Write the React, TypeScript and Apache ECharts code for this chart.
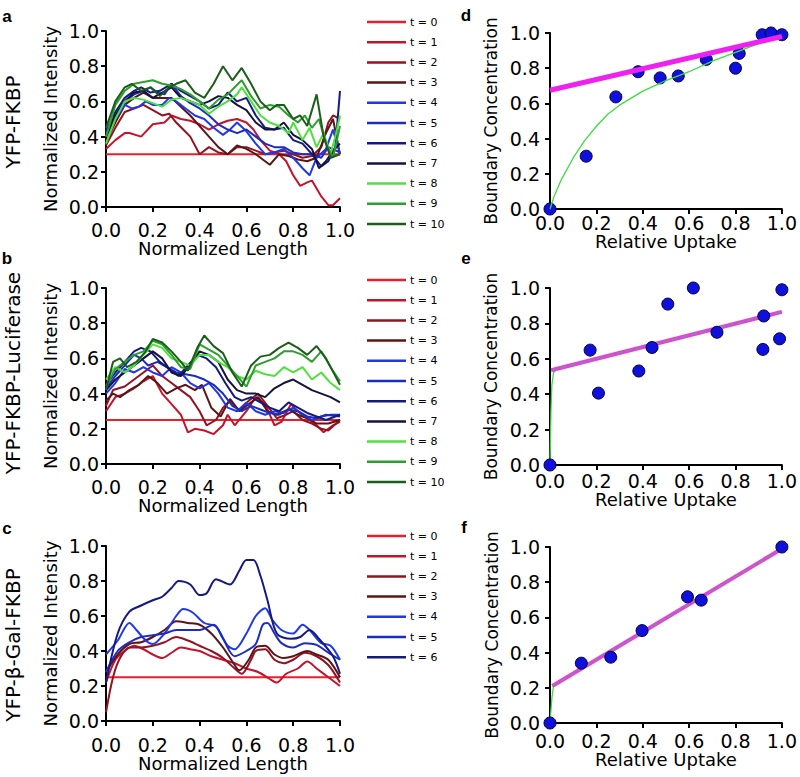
import React, { useEffect, useRef } from "react";
import * as echarts from "echarts";

type P = [number, number];

// ---------- labels ----------
const timeLabels = ["t = 0", "t = 1", "t = 2", "t = 3", "t = 4", "t = 5", "t = 6", "t = 7", "t = 8", "t = 9", "t = 10"];
const timeLabelsC = timeLabels.slice(0, 7);
const lineColors = ["#e8202a", "#c4142c", "#941222", "#5a1616", "#2038e8", "#1c2cc0", "#161a80", "#14143c", "#4fe03f", "#2e9e2e", "#1b5e1b"];
const panelLetters = ["a", "b", "c", "d", "e", "f"];
const rowLabels = ["YFP-FKBP", "YFP-FKBP-Luciferase", "YFP-\u03b2-Gal-FKBP"];

// ---------- panel a ----------
const aT0: P[] = [[0, 0.3], [1, 0.3]];
const aT1: P[] = [[0, 0.33], [0.04, 0.38], [0.08, 0.42], [0.1, 0.42], [0.15, 0.4], [0.2, 0.47], [0.25, 0.48], [0.28, 0.52], [0.32, 0.5], [0.36, 0.49], [0.4, 0.47], [0.44, 0.44], [0.48, 0.47], [0.52, 0.49], [0.56, 0.5], [0.6, 0.48], [0.63, 0.44], [0.66, 0.38], [0.7, 0.32], [0.74, 0.3], [0.77, 0.26], [0.8, 0.18], [0.83, 0.12], [0.86, 0.14], [0.88, 0.15], [0.92, 0.06], [0.95, 0.01], [0.97, 0.01], [1, 0.05]];
const aT2: P[] = [[0, 0.35], [0.04, 0.45], [0.08, 0.54], [0.12, 0.56], [0.16, 0.58], [0.2, 0.55], [0.24, 0.52], [0.27, 0.53], [0.3, 0.48], [0.33, 0.44], [0.36, 0.4], [0.4, 0.3], [0.44, 0.34], [0.48, 0.31], [0.52, 0.3], [0.56, 0.34], [0.6, 0.34], [0.64, 0.32], [0.68, 0.3], [0.72, 0.31], [0.76, 0.32], [0.8, 0.3], [0.84, 0.28], [0.88, 0.29], [0.92, 0.34], [0.95, 0.48], [0.97, 0.52], [1, 0.5]];
const aT3: P[] = [[0, 0.37], [0.04, 0.48], [0.08, 0.58], [0.12, 0.62], [0.16, 0.65], [0.2, 0.62], [0.24, 0.62], [0.28, 0.62], [0.32, 0.57], [0.36, 0.52], [0.4, 0.46], [0.44, 0.4], [0.48, 0.34], [0.52, 0.3], [0.56, 0.35], [0.6, 0.33], [0.64, 0.3], [0.68, 0.26], [0.7, 0.24], [0.74, 0.3], [0.78, 0.29], [0.82, 0.27], [0.86, 0.26], [0.9, 0.28], [0.94, 0.42], [0.97, 0.5], [1, 0.3]];
const aT4: P[] = [[0, 0.4], [0.04, 0.5], [0.08, 0.58], [0.11, 0.56], [0.14, 0.57], [0.17, 0.6], [0.2, 0.58], [0.24, 0.58], [0.27, 0.62], [0.3, 0.6], [0.34, 0.56], [0.38, 0.52], [0.42, 0.5], [0.46, 0.45], [0.5, 0.41], [0.53, 0.44], [0.56, 0.48], [0.6, 0.43], [0.64, 0.36], [0.68, 0.3], [0.72, 0.31], [0.76, 0.33], [0.8, 0.28], [0.84, 0.22], [0.87, 0.18], [0.9, 0.28], [0.94, 0.33], [0.97, 0.44], [1, 0.3]];
const aT5: P[] = [[0, 0.42], [0.04, 0.52], [0.08, 0.6], [0.12, 0.64], [0.16, 0.66], [0.19, 0.68], [0.22, 0.65], [0.25, 0.64], [0.28, 0.7], [0.32, 0.63], [0.36, 0.59], [0.4, 0.56], [0.44, 0.52], [0.48, 0.47], [0.52, 0.44], [0.56, 0.42], [0.6, 0.44], [0.64, 0.4], [0.68, 0.36], [0.72, 0.34], [0.76, 0.34], [0.8, 0.31], [0.84, 0.3], [0.88, 0.3], [0.92, 0.28], [0.95, 0.34], [1, 0.31]];
const aT6: P[] = [[0, 0.43], [0.04, 0.54], [0.08, 0.62], [0.12, 0.66], [0.15, 0.68], [0.19, 0.65], [0.23, 0.66], [0.28, 0.7], [0.32, 0.66], [0.36, 0.63], [0.4, 0.6], [0.44, 0.56], [0.48, 0.58], [0.52, 0.65], [0.56, 0.6], [0.6, 0.62], [0.64, 0.52], [0.68, 0.45], [0.72, 0.44], [0.76, 0.45], [0.8, 0.38], [0.84, 0.36], [0.88, 0.3], [0.92, 0.23], [0.95, 0.26], [0.98, 0.34], [1, 0.66]];
const aT7: P[] = [[0, 0.4], [0.04, 0.52], [0.08, 0.6], [0.12, 0.65], [0.16, 0.66], [0.2, 0.62], [0.24, 0.65], [0.28, 0.68], [0.32, 0.62], [0.36, 0.6], [0.4, 0.58], [0.44, 0.6], [0.48, 0.63], [0.52, 0.62], [0.56, 0.58], [0.6, 0.55], [0.64, 0.48], [0.68, 0.44], [0.72, 0.44], [0.76, 0.48], [0.8, 0.41], [0.84, 0.38], [0.88, 0.33], [0.91, 0.22], [0.94, 0.26], [0.97, 0.32], [1, 0.36]];
const aT8: P[] = [[0, 0.36], [0.04, 0.5], [0.08, 0.6], [0.12, 0.62], [0.16, 0.61], [0.2, 0.59], [0.24, 0.57], [0.28, 0.61], [0.32, 0.62], [0.36, 0.6], [0.4, 0.58], [0.44, 0.53], [0.48, 0.57], [0.52, 0.6], [0.56, 0.64], [0.58, 0.68], [0.62, 0.6], [0.66, 0.52], [0.7, 0.48], [0.74, 0.46], [0.78, 0.42], [0.8, 0.48], [0.84, 0.38], [0.87, 0.45], [0.9, 0.34], [0.93, 0.42], [0.96, 0.3], [0.98, 0.4], [1, 0.52]];
const aT9: P[] = [[0, 0.4], [0.04, 0.58], [0.08, 0.66], [0.12, 0.7], [0.16, 0.71], [0.2, 0.72], [0.24, 0.7], [0.28, 0.69], [0.32, 0.67], [0.36, 0.64], [0.4, 0.6], [0.44, 0.56], [0.48, 0.61], [0.52, 0.64], [0.55, 0.68], [0.58, 0.72], [0.62, 0.63], [0.66, 0.56], [0.7, 0.58], [0.74, 0.57], [0.78, 0.52], [0.82, 0.48], [0.85, 0.52], [0.88, 0.45], [0.91, 0.5], [0.94, 0.36], [0.97, 0.28], [1, 0.46]];
const aT10: P[] = [[0, 0.45], [0.04, 0.6], [0.08, 0.68], [0.11, 0.7], [0.15, 0.66], [0.19, 0.68], [0.23, 0.63], [0.27, 0.68], [0.3, 0.7], [0.34, 0.72], [0.38, 0.65], [0.42, 0.62], [0.46, 0.7], [0.5, 0.8], [0.54, 0.72], [0.58, 0.79], [0.62, 0.7], [0.66, 0.6], [0.7, 0.55], [0.73, 0.58], [0.76, 0.58], [0.8, 0.5], [0.83, 0.52], [0.86, 0.46], [0.9, 0.64], [0.93, 0.4], [0.96, 0.28], [1, 0.3]];

// ---------- panel b ----------
const bT0: P[] = [[0, 0.25], [1, 0.25]];
const bT1: P[] = [[0, 0.3], [0.04, 0.38], [0.08, 0.4], [0.12, 0.43], [0.16, 0.47], [0.2, 0.5], [0.24, 0.4], [0.28, 0.34], [0.32, 0.28], [0.35, 0.18], [0.38, 0.2], [0.42, 0.19], [0.46, 0.17], [0.5, 0.22], [0.52, 0.28], [0.55, 0.22], [0.6, 0.3], [0.64, 0.38], [0.68, 0.34], [0.72, 0.22], [0.75, 0.24], [0.79, 0.34], [0.82, 0.3], [0.86, 0.26], [0.9, 0.22], [0.93, 0.18], [0.97, 0.22], [1, 0.24]];
const bT2: P[] = [[0, 0.33], [0.03, 0.42], [0.08, 0.44], [0.12, 0.48], [0.16, 0.52], [0.2, 0.56], [0.24, 0.5], [0.28, 0.46], [0.32, 0.42], [0.36, 0.38], [0.4, 0.3], [0.43, 0.22], [0.47, 0.25], [0.5, 0.32], [0.53, 0.36], [0.57, 0.3], [0.61, 0.36], [0.65, 0.4], [0.69, 0.33], [0.73, 0.26], [0.77, 0.28], [0.8, 0.3], [0.84, 0.25], [0.88, 0.23], [0.92, 0.2], [0.95, 0.19], [1, 0.25]];
const bT3: P[] = [[0, 0.36], [0.03, 0.4], [0.06, 0.38], [0.1, 0.42], [0.14, 0.45], [0.18, 0.5], [0.22, 0.46], [0.26, 0.4], [0.3, 0.43], [0.34, 0.45], [0.38, 0.42], [0.41, 0.45], [0.45, 0.32], [0.49, 0.27], [0.53, 0.37], [0.57, 0.3], [0.61, 0.34], [0.65, 0.38], [0.69, 0.3], [0.73, 0.28], [0.78, 0.31], [0.82, 0.28], [0.86, 0.26], [0.9, 0.23], [0.95, 0.23], [1, 0.25]];
const bT4: P[] = [[0, 0.4], [0.04, 0.46], [0.08, 0.54], [0.12, 0.52], [0.16, 0.55], [0.2, 0.52], [0.24, 0.5], [0.28, 0.55], [0.32, 0.52], [0.36, 0.46], [0.4, 0.43], [0.44, 0.46], [0.48, 0.4], [0.52, 0.32], [0.56, 0.3], [0.6, 0.35], [0.64, 0.3], [0.68, 0.28], [0.72, 0.3], [0.76, 0.29], [0.8, 0.32], [0.84, 0.28], [0.88, 0.25], [0.92, 0.27], [0.96, 0.28], [1, 0.28]];
const bT5: P[] = [[0, 0.43], [0.04, 0.5], [0.08, 0.56], [0.12, 0.62], [0.15, 0.6], [0.18, 0.56], [0.22, 0.58], [0.26, 0.55], [0.3, 0.52], [0.34, 0.51], [0.38, 0.5], [0.42, 0.48], [0.46, 0.45], [0.5, 0.4], [0.54, 0.33], [0.58, 0.3], [0.62, 0.33], [0.66, 0.31], [0.7, 0.29], [0.74, 0.28], [0.78, 0.31], [0.82, 0.3], [0.86, 0.27], [0.9, 0.26], [0.94, 0.28], [1, 0.27]];
const bT6: P[] = [[0, 0.45], [0.04, 0.52], [0.08, 0.58], [0.12, 0.64], [0.15, 0.66], [0.19, 0.64], [0.23, 0.58], [0.27, 0.54], [0.31, 0.5], [0.35, 0.56], [0.39, 0.62], [0.43, 0.6], [0.47, 0.55], [0.51, 0.46], [0.55, 0.38], [0.58, 0.36], [0.62, 0.38], [0.66, 0.35], [0.7, 0.32], [0.74, 0.3], [0.78, 0.35], [0.82, 0.32], [0.86, 0.29], [0.9, 0.27], [0.94, 0.25], [1, 0.28]];
const bT7: P[] = [[0, 0.42], [0.04, 0.48], [0.08, 0.52], [0.12, 0.56], [0.16, 0.6], [0.2, 0.64], [0.24, 0.6], [0.28, 0.52], [0.32, 0.5], [0.36, 0.56], [0.4, 0.64], [0.44, 0.62], [0.48, 0.58], [0.52, 0.48], [0.56, 0.42], [0.6, 0.4], [0.64, 0.4], [0.68, 0.38], [0.72, 0.43], [0.76, 0.46], [0.8, 0.48], [0.84, 0.45], [0.88, 0.42], [0.92, 0.4], [0.96, 0.38], [1, 0.35]];
const bT8: P[] = [[0, 0.48], [0.04, 0.55], [0.08, 0.52], [0.12, 0.56], [0.16, 0.62], [0.2, 0.68], [0.24, 0.66], [0.28, 0.6], [0.32, 0.58], [0.36, 0.56], [0.4, 0.62], [0.44, 0.62], [0.48, 0.58], [0.52, 0.55], [0.56, 0.5], [0.6, 0.48], [0.64, 0.53], [0.68, 0.51], [0.72, 0.5], [0.76, 0.55], [0.8, 0.52], [0.84, 0.55], [0.88, 0.48], [0.92, 0.52], [0.96, 0.46], [1, 0.42]];
const bT9: P[] = [[0, 0.44], [0.04, 0.54], [0.08, 0.58], [0.12, 0.62], [0.16, 0.64], [0.2, 0.7], [0.24, 0.68], [0.28, 0.62], [0.32, 0.55], [0.36, 0.54], [0.4, 0.68], [0.44, 0.65], [0.48, 0.62], [0.52, 0.56], [0.56, 0.5], [0.6, 0.44], [0.64, 0.56], [0.68, 0.58], [0.72, 0.6], [0.76, 0.64], [0.8, 0.64], [0.84, 0.62], [0.88, 0.58], [0.92, 0.64], [0.96, 0.55], [1, 0.47]];
const bT10: P[] = [[0, 0.42], [0.03, 0.58], [0.06, 0.6], [0.09, 0.55], [0.13, 0.58], [0.17, 0.64], [0.2, 0.71], [0.24, 0.69], [0.28, 0.64], [0.32, 0.58], [0.35, 0.53], [0.39, 0.66], [0.42, 0.73], [0.46, 0.67], [0.5, 0.63], [0.54, 0.52], [0.58, 0.44], [0.62, 0.56], [0.66, 0.61], [0.7, 0.62], [0.74, 0.66], [0.78, 0.69], [0.82, 0.66], [0.86, 0.62], [0.9, 0.67], [0.94, 0.6], [1, 0.45]];

// ---------- panel c ----------
const cT0: P[] = [[0, 0.25], [1, 0.25]];
const cT1: P[] = [[0, 0.22], [0.04, 0.35], [0.08, 0.4], [0.12, 0.43], [0.16, 0.41], [0.2, 0.38], [0.24, 0.36], [0.28, 0.39], [0.32, 0.42], [0.36, 0.41], [0.4, 0.4], [0.45, 0.37], [0.5, 0.35], [0.55, 0.33], [0.6, 0.3], [0.65, 0.28], [0.7, 0.24], [0.73, 0.22], [0.77, 0.27], [0.82, 0.3], [0.86, 0.34], [0.9, 0.3], [0.95, 0.25], [1, 0.2]];
const cT2: P[] = [[0, 0.05], [0.03, 0.25], [0.06, 0.36], [0.1, 0.42], [0.15, 0.42], [0.2, 0.43], [0.25, 0.45], [0.3, 0.48], [0.35, 0.46], [0.4, 0.43], [0.45, 0.4], [0.5, 0.36], [0.55, 0.3], [0.58, 0.27], [0.62, 0.35], [0.64, 0.4], [0.68, 0.41], [0.72, 0.35], [0.76, 0.33], [0.8, 0.35], [0.85, 0.39], [0.9, 0.37], [0.95, 0.32], [1, 0.22]];
const cT3: P[] = [[0, 0.28], [0.05, 0.38], [0.1, 0.44], [0.15, 0.45], [0.2, 0.48], [0.25, 0.52], [0.3, 0.57], [0.35, 0.56], [0.4, 0.55], [0.45, 0.5], [0.5, 0.42], [0.54, 0.34], [0.57, 0.29], [0.61, 0.35], [0.64, 0.42], [0.68, 0.43], [0.72, 0.38], [0.76, 0.36], [0.8, 0.37], [0.86, 0.4], [0.9, 0.38], [0.95, 0.35], [1, 0.25]];
const cT4: P[] = [[0, 0.38], [0.05, 0.46], [0.1, 0.56], [0.13, 0.52], [0.17, 0.46], [0.2, 0.44], [0.25, 0.5], [0.3, 0.6], [0.33, 0.64], [0.37, 0.62], [0.42, 0.56], [0.47, 0.54], [0.52, 0.43], [0.55, 0.41], [0.6, 0.5], [0.64, 0.6], [0.68, 0.645], [0.71, 0.58], [0.75, 0.52], [0.8, 0.5], [0.84, 0.55], [0.87, 0.52], [0.92, 0.445], [0.96, 0.43], [1, 0.35]];
const cT5: P[] = [[0, 0.28], [0.05, 0.4], [0.1, 0.45], [0.15, 0.48], [0.2, 0.49], [0.25, 0.5], [0.3, 0.52], [0.35, 0.52], [0.4, 0.52], [0.46, 0.55], [0.5, 0.47], [0.55, 0.37], [0.6, 0.4], [0.64, 0.44], [0.67, 0.55], [0.69, 0.56], [0.72, 0.5], [0.75, 0.445], [0.8, 0.42], [0.85, 0.445], [0.9, 0.435], [0.95, 0.39], [1, 0.35]];
const cT6: P[] = [[0, 0.22], [0.05, 0.5], [0.1, 0.625], [0.15, 0.66], [0.2, 0.69], [0.24, 0.71], [0.28, 0.76], [0.31, 0.8], [0.36, 0.78], [0.4, 0.72], [0.43, 0.73], [0.47, 0.81], [0.53, 0.78], [0.57, 0.86], [0.6, 0.92], [0.63, 0.92], [0.66, 0.83], [0.69, 0.69], [0.73, 0.5], [0.79, 0.47], [0.83, 0.48], [0.87, 0.52], [0.91, 0.47], [0.97, 0.37], [1, 0.27]];

// ---------- panel d ----------
const dUptake = [0, 0.156, 0.284, 0.38, 0.475, 0.553, 0.674, 0.8, 0.816, 0.915, 0.953, 1.0];
const dConc = [0, 0.3, 0.637, 0.78, 0.745, 0.756, 0.85, 0.8, 0.884, 0.99, 1.0, 0.99];
const dLinearFit: P[] = [[0, 0.675], [1, 0.98]];
const dCurveFit: P[] = [[0, 0], [0.02, 0.08], [0.05, 0.17], [0.1, 0.29], [0.15, 0.39], [0.2, 0.47], [0.25, 0.54], [0.3, 0.59], [0.35, 0.63], [0.4, 0.67], [0.45, 0.7], [0.5, 0.73], [0.6, 0.78], [0.7, 0.84], [0.8, 0.89], [0.9, 0.94], [1, 0.98]];

// ---------- panel e ----------
const eUptake = [0, 0.173, 0.209, 0.383, 0.44, 0.508, 0.618, 0.72, 0.922, 0.918, 0.99, 1.0];
const eConc = [0, 0.649, 0.406, 0.531, 0.664, 0.909, 1.0, 0.75, 0.842, 0.653, 0.713, 0.99];
const eLinearFit: P[] = [[0.005, 0.535], [1, 0.865]];
const eCurveFit: P[] = [[0, 0], [0.004, 0.3], [0.008, 0.45], [0.015, 0.52], [0.03, 0.545], [1, 0.865]];

// ---------- panel f ----------
const fUptake = [0, 0.135, 0.262, 0.397, 0.593, 0.652, 1.0];
const fConc = [0, 0.34, 0.374, 0.525, 0.717, 0.698, 1.0];
const fLinearFit: P[] = [[0.01, 0.21], [1, 0.99]];
const fCurveFit: P[] = [[0, 0], [0.008, 0.14], [0.015, 0.21], [1, 0.99]];

const FONT = "DejaVu Sans";

const grids = [
  { left: 106, top: 31, width: 234, height: 176 },
  { left: 106, top: 288, width: 234, height: 176 },
  { left: 106, top: 546, width: 234, height: 175 },
  { left: 550, top: 33, width: 235, height: 176 },
  { left: 550, top: 288, width: 235, height: 177 },
  { left: 550, top: 547, width: 235, height: 176 },
];

const xNames = ["Normalized Length", "Normalized Length", "Normalized Length", "Relative Uptake", "Relative Uptake", "Relative Uptake"];
const yNames = ["Normalized Intensity", "Normalized Intensity", "Normalized Intensity", "Boundary Concentration", "Boundary Concentration", "Boundary Concentration"];
const xNameGaps = [27, 31, 29, 23, 25, 22];
const xLabelMargins = [13, 13, 14, 4, 6, 8];
const yNameGaps = [47, 47, 47, 51, 51, 50];
const yLabelMargins = [7, 7, 7, 10, 10, 10];

const baseAxis = (i: number) => ({
  gridIndex: i,
  type: "value" as const,
  min: 0,
  max: 1,
  interval: 0.2,
  nameLocation: "middle" as const,
  axisLine: { show: true, onZero: false, lineStyle: { color: "#000", width: 2 } },
  axisTick: { show: true, inside: false, length: 5, lineStyle: { color: "#000", width: 2 } },
  splitLine: { show: false },
});

function lineSeries(name: string, data: P[], color: string, gi: number, smooth: number | boolean = false) {
  return {
    type: "line",
    name,
    data,
    xAxisIndex: gi,
    yAxisIndex: gi,
    symbol: "none",
    showSymbol: false,
    smooth,
    lineStyle: { color, width: 2 },
    itemStyle: { color },
    silent: true,
    z: 2,
  };
}

function scatterSeries(xs: number[], ys: number[], gi: number, z: number) {
  return {
    type: "scatter",
    name: "measured",
    data: xs.map((x, k) => [x, ys[k]]),
    xAxisIndex: gi,
    yAxisIndex: gi,
    symbolSize: 12,
    itemStyle: { color: "#1010dc", borderColor: "#00003c", borderWidth: 1, opacity: 1 },
    silent: true,
    clip: false,
    z,
  };
}

function fitSeries(name: string, data: P[], color: string, width: number, gi: number, z: number, type: string = "solid") {
  return {
    type: "line",
    name,
    data,
    xAxisIndex: gi,
    yAxisIndex: gi,
    symbol: "none",
    showSymbol: false,
    lineStyle: { color, width, type },
    silent: true,
    z,
  };
}

const aData = [aT0, aT1, aT2, aT3, aT4, aT5, aT6, aT7, aT8, aT9, aT10];
const bData = [bT0, bT1, bT2, bT3, bT4, bT5, bT6, bT7, bT8, bT9, bT10];
const cData = [cT0, cT1, cT2, cT3, cT4, cT5, cT6];

const legendTops = [15, 273, 529];

const option: any = {
  animation: false,
  backgroundColor: "#fff",
  grid: grids,
  xAxis: grids.map((_, i) => ({
    ...baseAxis(i),
    name: xNames[i],
    nameGap: xNameGaps[i],
    nameTextStyle: { fontFamily: FONT, fontSize: 18, color: "#000" },
    axisLabel: { fontFamily: FONT, fontSize: 19, color: "#000", margin: xLabelMargins[i], formatter: (v: number) => v.toFixed(1) },
  })),
  yAxis: grids.map((_, i) => ({
    ...baseAxis(i),
    name: yNames[i],
    nameGap: yNameGaps[i],
    nameTextStyle: { fontFamily: FONT, fontSize: i < 3 ? 18 : 17, color: "#000" },
    axisLabel: { fontFamily: FONT, fontSize: 19, color: "#000", margin: yLabelMargins[i], formatter: (v: number) => v.toFixed(1) },
  })),
  legend: [timeLabels, timeLabels, timeLabelsC].map((names, k) => ({
    orient: "vertical",
    left: 367,
    top: legendTops[k],
    padding: 0,
    data: names,
    icon: "rect",
    itemWidth: 39,
    itemHeight: 2.5,
    itemGap: 6.2,
    selectedMode: false,
    textStyle: { fontFamily: FONT, fontSize: 11, color: "#000", lineHeight: 14, padding: [0, 0, 0, -1] },
  })),
  series: [
    ...aData.map((d, k) => lineSeries(timeLabels[k], d, lineColors[k], 0)),
    ...bData.map((d, k) => lineSeries(timeLabels[k], d, lineColors[k], 1)),
    ...cData.map((d, k) => lineSeries(timeLabelsC[k], d, lineColors[k], 2, 0.3)),
    scatterSeries(dUptake, dConc, 3, 3),
    fitSeries("hyperbolic fit", dCurveFit, "#3fdc3f", 1.3, 3, 4),
    fitSeries("linear fit", dLinearFit, "#ee22ee", 5, 3, 5),
    fitSeries("hyperbolic fit", eCurveFit, "#3fdc3f", 1.3, 4, 2),
    fitSeries("linear fit", eLinearFit, "#e83ce8", 4, 4, 3),
    fitSeries("linear fit core", eLinearFit, "#8a8a8a", 1.6, 4, 4, "dashed"),
    scatterSeries(eUptake, eConc, 4, 5),
    fitSeries("hyperbolic fit", fCurveFit, "#3fdc3f", 1.3, 5, 2),
    fitSeries("linear fit", fLinearFit, "#e83ce8", 4, 5, 3),
    fitSeries("linear fit core", fLinearFit, "#8a8a8a", 1.6, 5, 4, "dashed"),
    scatterSeries(fUptake, fConc, 5, 5),
  ],
  graphic: [
    ...panelLetters.map((t, k) => ({
      type: "text",
      x: [7, 7, 7, 466, 466, 464][k],
      y: [16, 258, 528, 15, 258, 527][k],
      style: { text: t, fontFamily: "Liberation Sans", fontWeight: "bold", fontSize: 17, fill: "#000", align: "center", verticalAlign: "middle" },
    })),
    ...rowLabels.map((t, k) => ({
      type: "text",
      x: 13,
      y: [122, 373, 645][k],
      rotation: Math.PI / 2,
      style: { text: t, fontFamily: FONT, fontSize: 20, fill: "#000", align: "center", verticalAlign: "middle" },
    })),
  ],
};

export default function App() {
  const ref = useRef<HTMLDivElement>(null);
  useEffect(() => {
    const chart = echarts.init(ref.current!, null, { renderer: "svg" });
    chart.setOption(option);
    return () => chart.dispose();
  }, []);
  return <div ref={ref} style={{ position: "absolute", left: 0, top: 0, width: 800, height: 777, background: "#fff" }} />;
}
